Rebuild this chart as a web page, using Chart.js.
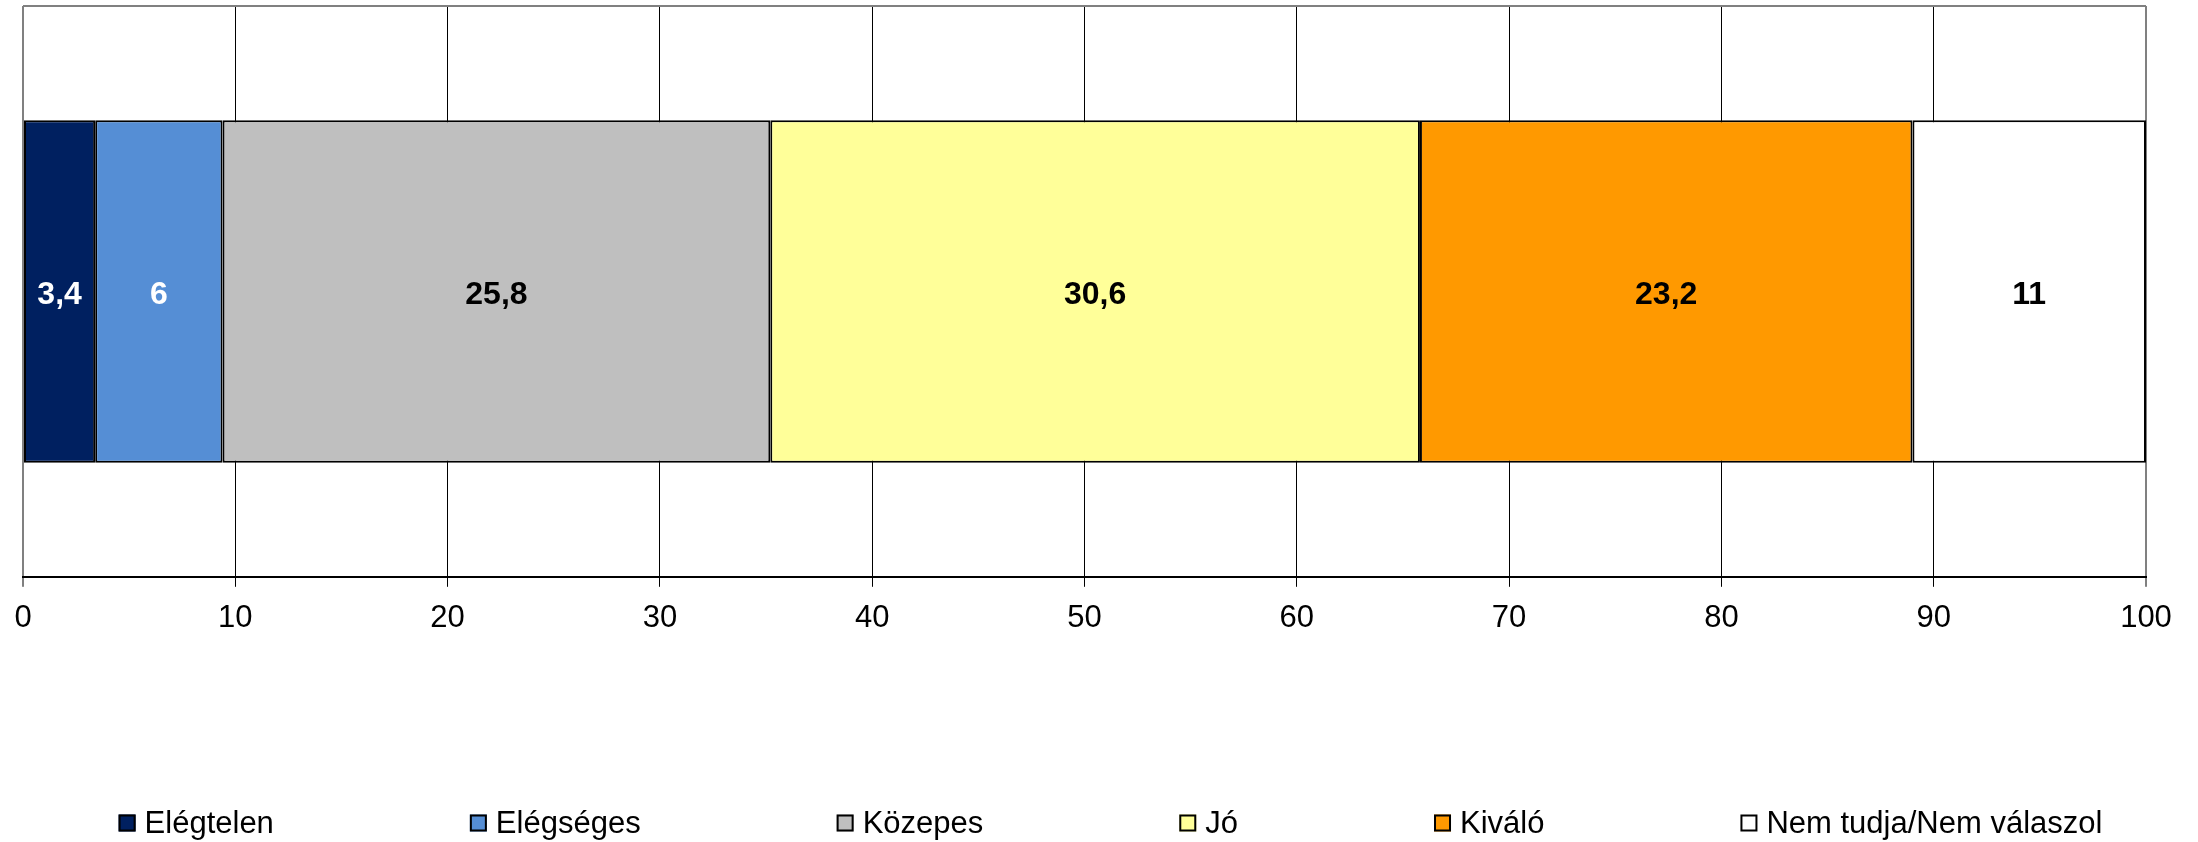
<!DOCTYPE html>
<html><head><meta charset="utf-8">
<script src="https://cdn.jsdelivr.net/npm/chart.js@4.4.1/dist/chart.umd.min.js"></script>
<style>html,body{margin:0;padding:0;background:#fff;}#wrap{width:2198px;height:842px;}</style>
</head><body><div id="wrap"><canvas id="c" width="2198" height="842"></canvas></div>
<script>
const categories = [''];
const seriesNames = ['Elégtelen', 'Elégséges', 'Közepes', 'Jó', 'Kiváló', 'Nem tudja/Nem válaszol'];
const elegtelen = [3.4];
const elegseges = [6];
const kozepes = [25.8];
const jo = [30.6];
const kivalo = [23.2];
const nemTudja = [11];
const seriesValues = [elegtelen, elegseges, kozepes, jo, kivalo, nemTudja];
const seriesColors = ['#002060', '#558ED5', '#BFBFBF', '#FFFF99', '#FF9900', '#FFFFFF'];
const labelColors = ['#FFFFFF', '#FFFFFF', '#000000', '#000000', '#000000', '#000000'];
const xMin = 0, xMax = 100, xStep = 10;

const FONT = '"Liberation Sans", Arial, sans-serif';

const framePlugin = {
  id: 'frame',
  beforeDatasetsDraw(chart) {
    const {ctx, chartArea: a} = chart;
    ctx.save();
    ctx.strokeStyle = '#808080';
    ctx.lineWidth = 2;
    ctx.beginPath();
    ctx.moveTo(a.left, a.top);
    ctx.lineTo(a.right, a.top);
    ctx.stroke();
    ctx.restore();
  }
};

const valueLabels = {
  id: 'valueLabels',
  afterDatasetsDraw(chart) {
    const ctx = chart.ctx;
    ctx.save();
    ctx.font = 'bold 32px ' + FONT;
    ctx.textAlign = 'center';
    ctx.textBaseline = 'middle';
    chart.data.datasets.forEach((ds, i) => {
      const meta = chart.getDatasetMeta(i);
      meta.data.forEach((bar, j) => {
        const v = ds.data[j];
        const cx = (bar.x + bar.base) / 2;
        ctx.fillStyle = labelColors[i];
        ctx.fillText(String(v).replace('.', ','), cx, bar.y + 4);
      });
    });
    ctx.restore();
  }
};

const customLegend = {
  id: 'customLegend',
  afterDraw(chart) {
    const ctx = chart.ctx;
    const box = 17, textGap = 9, gap = 196;
    ctx.save();
    ctx.font = '31px ' + FONT;
    const items = chart.data.datasets.map(ds => ({
      text: ds.label, color: ds.backgroundColor, w: box + textGap + ctx.measureText(ds.label).width
    }));
    const total = items.reduce((s, it) => s + it.w, 0) + gap * (items.length - 1);
    let x = 1110.5 - total / 2;
    const y = 823;
    items.forEach(it => {
      ctx.fillStyle = it.color;
      ctx.fillRect(x, y - box / 2, box, box);
      ctx.strokeStyle = '#000';
      ctx.lineWidth = 2;
      ctx.strokeRect(x + 1, y - box / 2 + 1, box - 2, box - 2);
      ctx.fillStyle = '#000';
      ctx.textAlign = 'left';
      ctx.textBaseline = 'middle';
      ctx.fillText(it.text, x + box + textGap, y + 1);
      x += it.w + gap;
    });
    ctx.restore();
  }
};

new Chart(document.getElementById('c'), {
  type: 'bar',
  data: {
    labels: categories,
    datasets: seriesNames.map((name, i) => ({
      label: name,
      data: seriesValues[i],
      backgroundColor: seriesColors[i],
      borderColor: '#000000',
      borderWidth: 2,
      borderSkipped: false,
      barPercentage: 1,
      categoryPercentage: 0.6
    }))
  },
  options: {
    indexAxis: 'y',
    responsive: false,
    animation: false,
    devicePixelRatio: 1,
    layout: {padding: {left: 23, right: 52, top: 6, bottom: 192}},
    scales: {
      x: {
        type: 'linear', stacked: true, min: xMin, max: xMax,
        ticks: {stepSize: xStep, color: '#000', font: {family: FONT, size: 31}, padding: 13},
        grid: {
          color: c => (c.tick && (c.tick.value === xMin || c.tick.value === xMax)) ? '#808080' : '#000000',
          lineWidth: c => (c.tick && (c.tick.value === xMin || c.tick.value === xMax)) ? 2 : 1,
          tickColor: '#000', tickLength: 10, tickWidth: 1
        },
        border: {color: '#000', width: 2}
      },
      y: {stacked: true, display: false}
    },
    plugins: {legend: {display: false}, tooltip: {enabled: false}}
  },
  plugins: [framePlugin, valueLabels, customLegend]
});
</script></body></html>
